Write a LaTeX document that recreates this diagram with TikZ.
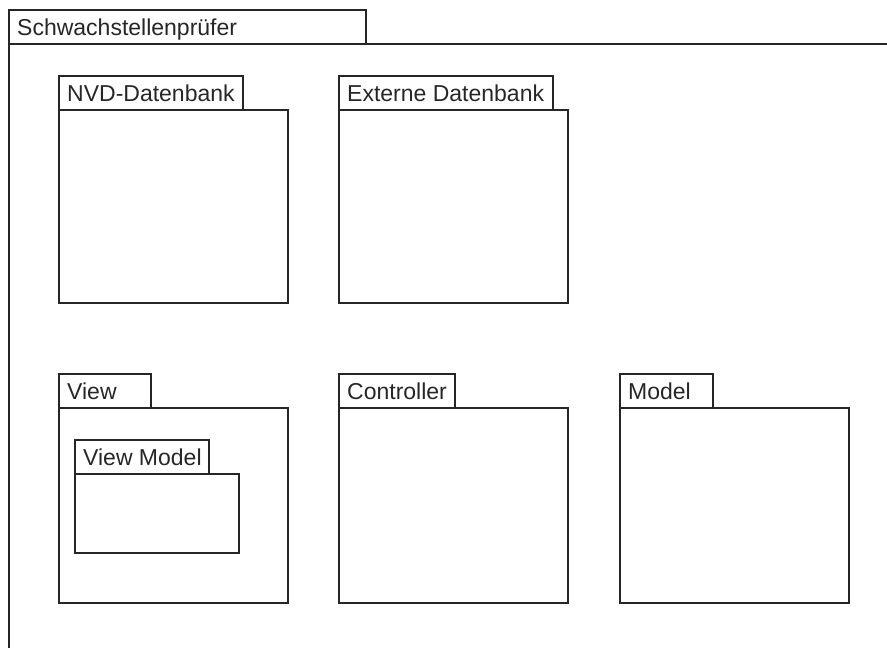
\documentclass[tikz,border=0pt]{standalone}
\usepackage{fontspec}
\setmainfont{Liberation Sans}
\begin{document}
\begin{tikzpicture}[x=1pt,y=-1pt]
\def\tabh{34}
\tikzset{rahmen/.style={line width=1.2pt,color=black!85},
	titel/.style={anchor=base west,inner sep=0pt,font=\fontsize{23}{27}\selectfont,text=black!85}}
\useasboundingbox (0,0) rectangle (887,648);
\clip (0,0) rectangle (887,648);

% #1 Name, (#2,#3) Ecke des Reiters, #4 Reiterbreite, #5 Breite, #6 Hoehe, #7 Titel
\def\paket#1#2#3#4#5#6#7{%
\draw[rahmen] (#2,#3) rectangle ++(#4,\tabh);
\draw[rahmen] (#2,{#3+\tabh}) rectangle ++(#5,#6) coordinate (#1-ecke);
\node[titel] (#1) at ({#2+8},{#3+25}) {#7};
}

\paket{pruefer}{9}{10}{357}{900}{640}{Schwachstellenprüfer};

\paket{nvd}{59}{76}{184}{229}{193}{NVD-Datenbank};
\paket{extern}{339}{76}{214}{229}{193}{Externe Datenbank};

\paket{view}{59}{374}{92}{229}{195}{View};
\paket{viewmodel}{75}{440}{134}{164}{79}{View Model};
\paket{controller}{339}{374}{116}{229}{195}{Controller};
\paket{model}{620}{374}{93}{229}{195}{Model};

\end{tikzpicture}
\end{document}
